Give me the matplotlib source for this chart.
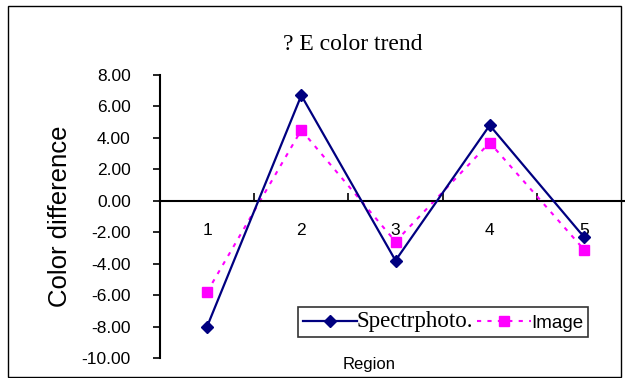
import matplotlib
matplotlib.use("Agg")
import matplotlib.pyplot as plt
from matplotlib.patches import Rectangle
from matplotlib.ticker import FixedLocator, NullFormatter, FixedFormatter

categories = ["1", "2", "3", "4", "5"]
spectro = [-8.0, 6.7, -3.8, 4.8, -2.3]
image = [-5.8, 4.5, -2.6, 3.7, -3.1]
yticks = [8, 6, 4, 2, 0, -2, -4, -6, -8, -10]

W, H = 625, 378
fig = plt.figure(figsize=(W / 100, H / 100), dpi=100)
fig.patch.set_facecolor("white")

# outer border
fig.patches.append(Rectangle((8 / W, 1 - 377 / H), 613 / W, 371 / H,
                             transform=fig.transFigure, fill=False,
                             edgecolor="black", linewidth=1.0))

ax = fig.add_axes([160 / W, 1 - 358 / H, 471 / W, 283 / H])
ax.set_facecolor("none")
x = list(range(1, len(categories) + 1))

ax.plot(x, spectro, color="#000080", linewidth=1.6, marker="D",
        markersize=6, label="Spectrphoto.", clip_on=False, zorder=3)
ax.plot(x, image, color="#FF00FF", linewidth=1.5, linestyle=(0, (2, 3)),
        marker="s", markersize=7.5, label="Image", clip_on=False, zorder=2)

ax.set_xlim(0.5, 5.5)
ax.set_ylim(-10, 8)

for s in ["top", "right"]:
    ax.spines[s].set_visible(False)
ax.spines["bottom"].set_position(("data", 0))
ax.spines["bottom"].set_linewidth(1.5)
ax.spines["left"].set_linewidth(1.5)

ax.xaxis.set_major_locator(FixedLocator([0.5, 1.5, 2.5, 3.5, 4.5, 5.5]))
ax.xaxis.set_major_formatter(NullFormatter())
ax.tick_params(axis="x", which="major", direction="in", length=6, width=1.2)
ax.xaxis.set_minor_locator(FixedLocator(x))
ax.xaxis.set_minor_formatter(FixedFormatter(categories))
ax.tick_params(axis="x", which="minor", length=0, pad=16, labelsize=12.5)

ax.set_yticks(yticks)
ax.set_yticklabels([f"{v:.2f}" for v in yticks])
ax.tick_params(axis="y", direction="out", length=5, width=1.2, pad=16, labelsize=12.5)

for lbl in ax.get_xticklabels(minor=True) + ax.get_yticklabels():
    lbl.set_fontfamily("Liberation Sans")
    lbl.set_zorder(5)

ax.set_ylabel("Color difference", fontsize=18.5, family="Liberation Sans")
ax.yaxis.set_label_coords(-88 / 471, 0.5)
fig.text(369 / W, 1 - 364 / H, "Region", ha="center", va="center",
         fontsize=12, family="Liberation Sans")
fig.text(353 / W, 1 - 45 / H, "? E color trend", ha="center", va="center",
         fontsize=17, family="Liberation Serif")

leg = fig.legend(loc="center", bbox_to_anchor=(443 / W, 1 - 322 / H), ncol=2,
                 frameon=True, fancybox=False, handlelength=3.0,
                 handletextpad=0.0, columnspacing=0.2, borderpad=0.25,
                 borderaxespad=0, fontsize=13)
leg.get_frame().set_edgecolor("black")
leg.get_frame().set_linewidth(1.2)
texts = leg.get_texts()
texts[0].set_fontfamily("Liberation Serif")
texts[0].set_fontsize(16.5)
texts[1].set_fontfamily("Liberation Sans")
texts[1].set_fontsize(13.5)

fig.savefig("out.png", dpi=100)
